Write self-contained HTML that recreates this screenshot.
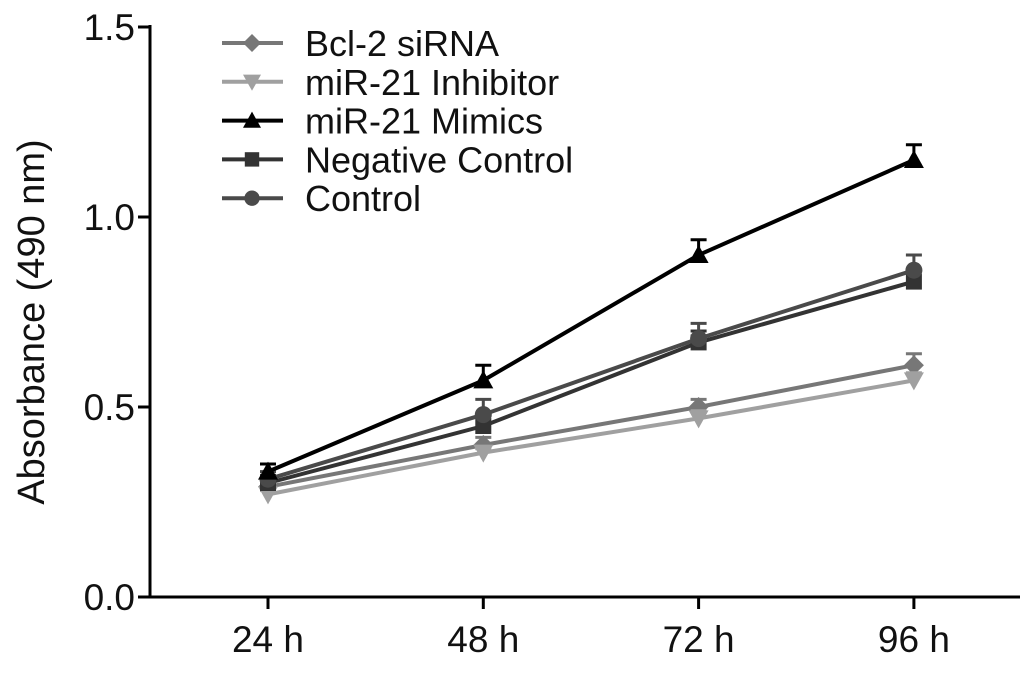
<!DOCTYPE html>
<html><head><meta charset="utf-8"><style>
body{margin:0;background:#fff}
svg{display:block;font-family:"Liberation Sans",Arial,sans-serif}
</style></head><body>
<svg id="chart" width="1035" height="677" viewBox="0 0 1035 677">
<g id="axes"></g><g id="series"></g><g id="legend"></g>
</svg>
<script>
const categories=["24 h","48 h","72 h","96 h"];
const yTicks=[0.0,0.5,1.0,1.5];
const seriesNames=["Bcl-2 siRNA","miR-21 Inhibitor","miR-21 Mimics","Negative Control","Control"];
const bcl2=[0.29,0.40,0.50,0.61];
const inhibitor=[0.27,0.38,0.47,0.57];
const mimics=[0.33,0.57,0.90,1.15];
const negCtrl=[0.30,0.45,0.67,0.83];
const ctrl=[0.31,0.48,0.68,0.86];
const bcl2Err=[0.01,0.02,0.02,0.03];
const inhibitorErr=[0.01,0.01,0.02,0.02];
const mimicsErr=[0.02,0.04,0.04,0.04];
const negCtrlErr=[0.02,0.03,0.03,0.03];
const ctrlErr=[0.02,0.04,0.04,0.04];

const NS="http://www.w3.org/2000/svg";
const X0=150,Y0=597;
const xPos=i=>268+i*215.3;
const yPos=v=>Y0-v*380;
function mk(tag,attrs,parent,text){const e=document.createElementNS(NS,tag);for(const k in attrs)e.setAttribute(k,attrs[k]);if(text!==undefined)e.textContent=text;parent.appendChild(e);return e;}
const axes=document.getElementById('axes');
let a=mk('line',{x1:X0,y1:25,x2:X0,y2:Y0+1,stroke:'#000','stroke-width':3},axes);


a=mk('line',{x1:X0-1,y1:Y0,x2:1020,y2:Y0,stroke:'#000','stroke-width':3},axes);


yTicks.forEach(v=>{const y=yPos(v);
 mk('line',{x1:X0-12,y1:y,x2:X0,y2:y,stroke:'#000','stroke-width':3},axes);
 const t=mk('text',{x:X0-15,y:y+13,'text-anchor':'end','font-size':37,fill:'#111'},axes,v.toFixed(1));
 
 });
categories.forEach((c,i)=>{const x=xPos(i);
 mk('line',{x1:x,y1:Y0,x2:x,y2:Y0+12,stroke:'#000','stroke-width':3},axes);
 const t=mk('text',{x:x,y:652,'text-anchor':'middle','font-size':37,fill:'#111'},axes,c);
 
 });
const yt=mk('text',{x:0,y:0,transform:'translate(44,322) rotate(-90)','text-anchor':'middle','font-size':38,fill:'#111'},axes,'Absorbance (490 nm)');



const defs=[
 {vals:bcl2,err:bcl2Err,color:'#777',m:'diamond'},
 {vals:inhibitor,err:inhibitorErr,color:'#a0a0a0',m:'tri-down'},
 {vals:negCtrl,err:negCtrlErr,color:'#333',m:'square'},
 {vals:ctrl,err:ctrlErr,color:'#4a4a4a',m:'circle'},
 {vals:mimics,err:mimicsErr,color:'#000',m:'tri-up'}];
const nameIdx={diamond:0,'tri-down':1,'tri-up':2,square:3,circle:4};
function marker(g,m,x,y,color,s){
 if(m==='diamond')mk('polygon',{points:`${x},${y-s} ${x+s},${y} ${x},${y+s} ${x-s},${y}`,fill:color},g);
 else if(m==='tri-down')mk('polygon',{points:`${x-s},${y-s*0.8} ${x+s},${y-s*0.8} ${x},${y+s}`,fill:color},g);
 else if(m==='tri-up')mk('polygon',{points:`${x-s},${y+s*0.8} ${x+s},${y+s*0.8} ${x},${y-s}`,fill:color},g);
 else if(m==='square')mk('rect',{x:x-s*0.8,y:y-s*0.8,width:s*1.6,height:s*1.6,fill:color},g);
 else mk('circle',{cx:x,cy:y,r:s*0.85,fill:color},g);}
const sg=document.getElementById('series');
defs.forEach(d=>{const g=mk('g',{},sg);
 
 
 mk('polyline',{points:d.vals.map((v,i)=>xPos(i)+','+yPos(v)).join(' '),fill:'none',stroke:d.color,'stroke-width':4},g);
 d.vals.forEach((v,i)=>{const x=xPos(i),yt=yPos(v+d.err[i]);
  mk('line',{x1:x,y1:yPos(v),x2:x,y2:yt,stroke:d.color,'stroke-width':3},g);
  mk('line',{x1:x-8,y1:yt,x2:x+8,y2:yt,stroke:d.color,'stroke-width':3},g);
  marker(g,d.m,x,yPos(v),d.color,10);});});

const lg=document.getElementById('legend');
const legendDefs=[['#777','diamond'],['#a0a0a0','tri-down'],['#000','tri-up'],['#333','square'],['#4a4a4a','circle']];
seriesNames.forEach((n,i)=>{const y=43+i*38.8;const g=mk('g',{},lg);
 
 
 mk('line',{x1:222,y1:y,x2:283,y2:y,stroke:legendDefs[i][0],'stroke-width':4},g);
 marker(g,legendDefs[i][1],252,y,legendDefs[i][0],9);
 mk('text',{x:305,y:y+13,'font-size':36,fill:'#111'},g,n);});
</script>
</body></html>
